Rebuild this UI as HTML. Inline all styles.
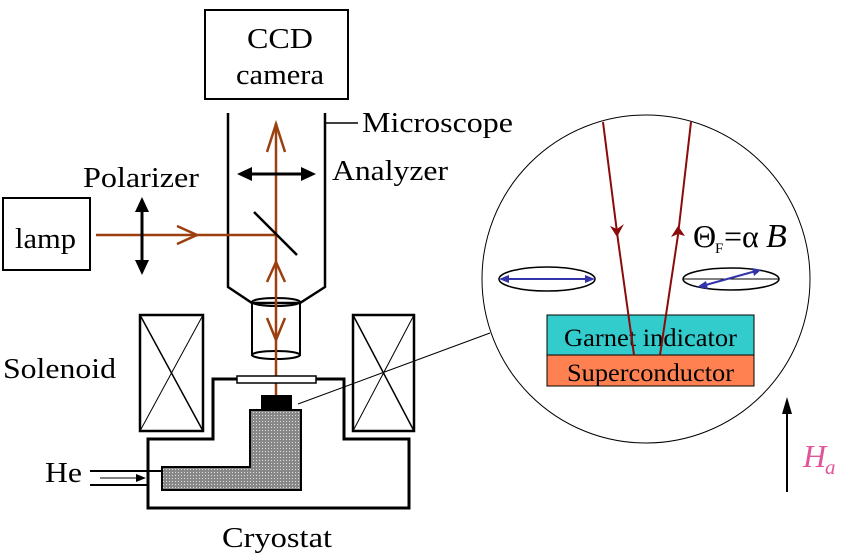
<!DOCTYPE html>
<html><head><meta charset="utf-8"><style>
html,body{margin:0;padding:0;background:#fff;}
svg{display:block;}
</style></head><body>
<svg width="843" height="559" viewBox="0 0 843 559" xmlns="http://www.w3.org/2000/svg" font-family="'Liberation Serif', serif">
<defs>
<pattern id="dots" width="3" height="3" patternUnits="userSpaceOnUse">
<rect width="3" height="3" fill="#888"/><rect x="1" y="1" width="1" height="1" fill="#ddd"/>
</pattern>
</defs>
<rect x="205" y="10" width="143" height="89" fill="none" stroke="#000" stroke-width="2"/>
<text x="247" y="48" font-size="29" textLength="66" lengthAdjust="spacingAndGlyphs">CCD</text>
<text x="236" y="84" font-size="29" textLength="88" lengthAdjust="spacingAndGlyphs">camera</text>
<polyline points="228,113 228,287 252,303 300,303 325,287 325,113" fill="none" stroke="#000" stroke-width="2.5"/>
<line x1="325" y1="123" x2="358" y2="123" stroke="#000" stroke-width="1.5"/>
<text x="362" y="132" font-size="29" textLength="151" lengthAdjust="spacingAndGlyphs">Microscope</text>
<line x1="252" y1="303" x2="252" y2="356" stroke="#000" stroke-width="2"/>
<line x1="300" y1="303" x2="300" y2="356" stroke="#000" stroke-width="2"/>
<ellipse cx="276" cy="302" rx="24" ry="4" fill="none" stroke="#000" stroke-width="2"/>
<ellipse cx="276" cy="355" rx="24" ry="4" fill="none" stroke="#000" stroke-width="2"/>
<rect x="3" y="198" width="87" height="72" fill="none" stroke="#000" stroke-width="2"/>
<text x="15" y="248" font-size="29" textLength="61" lengthAdjust="spacingAndGlyphs">lamp</text>
<text x="83" y="187" font-size="29" textLength="116" lengthAdjust="spacingAndGlyphs">Polarizer</text>
<text x="332" y="180" font-size="29" textLength="116" lengthAdjust="spacingAndGlyphs">Analyzer</text>
<g stroke="#9c3f10" stroke-width="2.5" fill="none">
<line x1="96" y1="235" x2="276" y2="235"/>
<polyline points="177,226 197,235 177,244"/>
<line x1="276" y1="123" x2="276" y2="396"/>
<polyline points="267,152 276,124 285,152"/>
<polyline points="267,282 276,262 285,282"/>
<polyline points="267,318 276,340 285,318"/>
</g>
<line x1="254" y1="212" x2="297" y2="255" stroke="#000" stroke-width="2.5"/>
<line x1="142" y1="205" x2="142" y2="266" stroke="#000" stroke-width="3"/>
<polygon points="142,197 135,212 149,212" fill="#000"/>
<polygon points="142,275 135,260 149,260" fill="#000"/>
<line x1="245" y1="174" x2="308" y2="174" stroke="#000" stroke-width="3"/>
<polygon points="237,174 252,167 252,181" fill="#000"/>
<polygon points="316,174 301,167 301,181" fill="#000"/>
<g stroke="#000" fill="none">
<rect x="140" y="315" width="63" height="116" stroke-width="2.5"/>
<line x1="140" y1="315" x2="203" y2="431" stroke-width="1.5"/>
<line x1="203" y1="315" x2="140" y2="431" stroke-width="1"/>
<rect x="353" y="315" width="61" height="116" stroke-width="2.5"/>
<line x1="353" y1="315" x2="414" y2="431" stroke-width="1.5"/>
<line x1="414" y1="315" x2="353" y2="431" stroke-width="1"/>
</g>
<text x="3" y="378" font-size="29" textLength="113" lengthAdjust="spacingAndGlyphs">Solenoid</text>
<polyline points="237,379 213,379 213,439 148,439 148,508 409,508 409,439 344,439 344,379 316,379" fill="none" stroke="#000" stroke-width="3"/>
<rect x="237" y="376" width="79" height="7" fill="#fff" stroke="#000" stroke-width="1.5"/>
<rect x="261" y="395" width="31" height="15" fill="#000"/>
<polygon points="250,410 301,410 301,490 162,490 162,467 250,467" fill="url(#dots)" stroke="#000" stroke-width="2"/>
<line x1="90" y1="471" x2="162" y2="471" stroke="#000" stroke-width="2"/>
<line x1="90" y1="485" x2="148" y2="485" stroke="#000" stroke-width="2"/>
<line x1="100" y1="478" x2="138" y2="478" stroke="#000" stroke-width="1"/>
<polygon points="146,478 136,474 136,482" fill="#000"/>
<text x="45" y="482" font-size="29" textLength="37" lengthAdjust="spacingAndGlyphs">He</text>
<text x="222" y="547" font-size="29" textLength="110" lengthAdjust="spacingAndGlyphs">Cryostat</text>
<line x1="298" y1="404" x2="490" y2="333" stroke="#000" stroke-width="1"/>
<circle cx="646" cy="279" r="164" fill="#fff" stroke="#000" stroke-width="1"/>
<rect x="547" y="315" width="207" height="40" fill="#33cccc" stroke="#000" stroke-width="1"/>
<rect x="547" y="355" width="207" height="31" fill="#ff8050" stroke="#000" stroke-width="1"/>
<text x="564" y="346" font-size="25" textLength="173" lengthAdjust="spacingAndGlyphs">Garnet indicator</text>
<text x="567" y="381" font-size="25" textLength="167" lengthAdjust="spacingAndGlyphs">Superconductor</text>
<g stroke="#8b0a0a" stroke-width="2" fill="none">
<polyline points="603,122 618,240 634,355"/>
<polyline points="691,122 678,235 660,355"/>
</g>
<polygon points="617,237 610,226 617,229 624,224" fill="#8b0a0a"/>
<polygon points="678,226 671,237 678,234 685,236" fill="#8b0a0a"/>
<text x="693" y="247" font-size="32">Θ</text>
<text x="715" y="253" font-size="15">F</text>
<text x="724" y="247" font-size="32">=α</text>
<text x="766" y="247" font-size="34" font-style="italic">B</text>
<ellipse cx="547" cy="279" rx="48" ry="12" fill="none" stroke="#000" stroke-width="1.5"/>
<line x1="503" y1="279" x2="591" y2="279" stroke="#3333aa" stroke-width="2"/>
<polygon points="499,279 509,275 509,283" fill="#3333aa"/>
<polygon points="595,279 585,275 585,283" fill="#3333aa"/>
<ellipse cx="731" cy="279" rx="48" ry="11" fill="none" stroke="#000" stroke-width="1.5"/>
<line x1="683" y1="279" x2="779" y2="279" stroke="#000" stroke-width="1"/>
<line x1="702" y1="286" x2="756" y2="271" stroke="#3333aa" stroke-width="2"/>
<polygon points="697,287 706,281 708,289" fill="#3333aa"/>
<polygon points="761,270 752,268 754,276" fill="#3333aa"/>
<line x1="787" y1="410" x2="787" y2="492" stroke="#000" stroke-width="2"/>
<polygon points="787,397 782,414 792,414" fill="#000"/>
<text x="803" y="467" font-size="32" font-style="italic" fill="#e0559a">H</text>
<text x="825" y="474" font-size="21" font-style="italic" fill="#e0559a">a</text>
</svg>
</body></html>
